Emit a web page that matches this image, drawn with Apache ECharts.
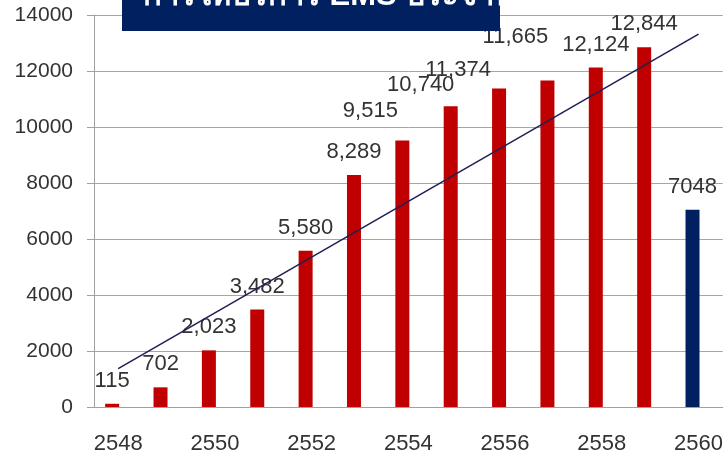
<!DOCTYPE html>
<html>
<head>
<meta charset="utf-8">
<script src="https://cdn.jsdelivr.net/npm/echarts@6/dist/echarts.min.js"></script>
<style>
  html, body { margin: 0; padding: 0; background: #fff; }
  #chart { width: 726px; height: 456px; }
</style>
</head>
<body>
<div id="chart"></div>
<script>
// Fiscal years (Buddhist era)
const years = ['2548', '2549', '2550', '2551', '2552', '2553', '2554',
               '2555', '2556', '2557', '2558', '2559', '2560'];
// Completed years
const servedValues = [115, 702, 2023, 3482, 5580, 8289, 9515,
                      10740, 11374, 11665, 12124, 12844, null];
// Current (partial) year
const currentValues = [null, null, null, null, null, null, null,
                       null, null, null, null, null, 7048];
// Linear trend line, value at first and last year
const trendEnds = [1370, 13320];
// Value axis range
const yMin = 0, yMax = 14000, yStep = 2000;

const titleText = 'การให้บริการ EMS ประจำปี';

// Hand-placed labels that would otherwise collide with their neighbours
const labelNudges = {
  '2554': [-32, -7],
  '2555': [-30, 2],
  '2556': [-41, 4],
  '2557': [-32, -20]
};

const RED = '#C00000';
const NAVY = '#002060';
const TEXT = '#333333';

const fmt = v => v.toLocaleString('en-US');

const servedData = servedValues.map((v, i) => {
  const item = { value: v };
  const n = labelNudges[years[i]];
  if (n) item.label = { offset: n };
  return item;
});

const chart = echarts.init(document.getElementById('chart'), null, { renderer: 'canvas' });

chart.setOption({
  animation: false,
  backgroundColor: '#ffffff',
  grid: { left: 94, right: 3, top: 15, bottom: 49, containLabel: false },
  xAxis: {
    type: 'category',
    data: years,
    boundaryGap: true,
    axisLine: { show: true, lineStyle: { color: '#A0A0A0', width: 1 } },
    axisTick: { show: false },
    axisLabel: {
      interval: 1,
      margin: 26,
      color: TEXT,
      fontFamily: 'Liberation Sans',
      fontSize: 22
    },
    splitLine: { show: false }
  },
  yAxis: {
    type: 'value',
    min: yMin,
    max: yMax,
    interval: yStep,
    axisLine: { show: true, lineStyle: { color: '#A0A0A0', width: 1 } },
    axisTick: { show: true, length: 7, lineStyle: { color: '#A0A0A0' } },
    axisLabel: {
      margin: 21,
      color: TEXT,
      fontFamily: 'Liberation Sans',
      fontSize: 21,
      formatter: v => String(v)
    },
    splitLine: { show: true, lineStyle: { color: '#A6A6A6', width: 1 } }
  },
  series: [
    {
      name: 'served',
      type: 'bar',
      stack: 'years',
      barWidth: 14,
      barGap: '-14%',
      data: servedData,
      itemStyle: { color: RED },
      label: {
        show: true,
        position: 'top',
        distance: 12,
        color: TEXT,
        fontFamily: 'Liberation Sans',
        fontSize: 22,
        formatter: p => fmt(p.value)
      },
      z: 2
    },
    {
      name: 'current',
      type: 'bar',
      stack: 'years',
      barWidth: 14,
      data: currentValues,
      itemStyle: { color: NAVY },
      label: {
        show: true,
        position: 'top',
        distance: 12,
        color: TEXT,
        fontFamily: 'Liberation Sans',
        fontSize: 22,
        formatter: p => String(p.value)
      },
      z: 2
    },
    {
      // empty slot that sets the bars slightly left of each category centre
      name: 'slot',
      type: 'bar',
      barWidth: 14,
      data: []
    },
    {
      name: 'trend',
      type: 'line',
      data: [[years[0], trendEnds[0]], [years[years.length - 1], trendEnds[1]]],
      symbol: 'none',
      lineStyle: { color: '#1E1E55', width: 1.5 },
      z: 5
    }
  ],
  graphic: [
    {
      type: 'rect',
      left: 122,
      top: 0,
      shape: { width: 378, height: 31 },
      style: { fill: NAVY },
      z: 100
    },
    {
      type: 'text',
      x: 143,
      y: -4,
      style: {
        text: titleText,
        fill: '#ffffff',
        font: 'bold 31px "Liberation Sans", "Noto Sans", sans-serif',
        verticalAlign: 'middle',
        align: 'left'
      },
      z: 101
    }
  ]
});
</script>
</body>
</html>
